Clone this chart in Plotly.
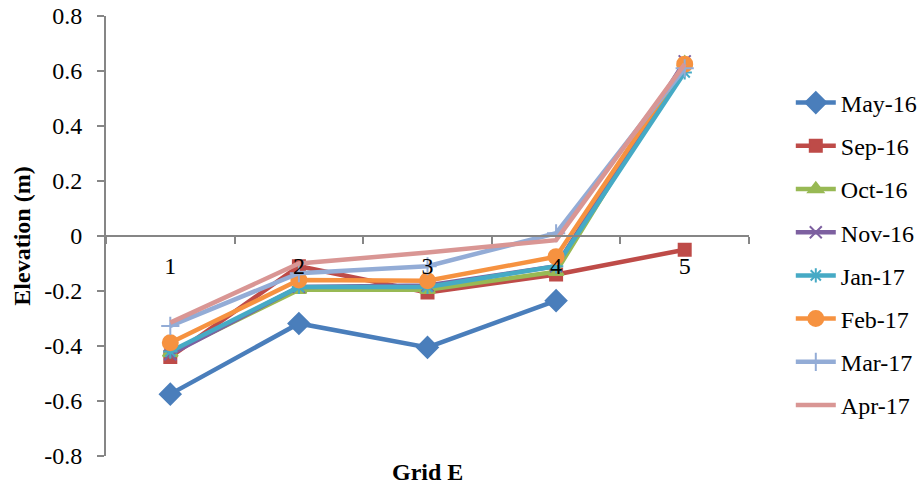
import plotly.graph_objects as go

grid_points = ["1", "2", "3", "4", "5"]

may_16 = [-0.575, -0.318, -0.405, -0.235, None]
sep_16 = [-0.44, -0.11, -0.205, -0.14, -0.05]
oct_16 = [-0.425, -0.195, -0.195, -0.13, 0.63]
nov_16 = [-0.43, -0.185, -0.18, -0.11, 0.635]
jan_17 = [-0.42, -0.185, -0.185, -0.11, 0.595]
feb_17 = [-0.388, -0.16, -0.163, -0.075, 0.625]
mar_17 = [-0.327, -0.135, -0.11, 0.01, 0.61]
apr_17 = [-0.315, -0.1, -0.06, -0.015, 0.625]

series = [
    ("May-16", may_16, "#4a7ebb", "diamond", 16),
    ("Sep-16", sep_16, "#be4b48", "square", 12),
    ("Oct-16", oct_16, "#98b954", "triangle-up", 13),
    ("Nov-16", nov_16, "#7d60a0", "x-thin-open", 12),
    ("Jan-17", jan_17, "#46aac5", "asterisk-open", 12),
    ("Feb-17", feb_17, "#f69240", "circle", 15),
    ("Mar-17", mar_17, "#93acd6", "cross-thin-open", 13),
    ("Apr-17", apr_17, "#d99694", None, 0),
]

font_family = "Times New Roman, Liberation Serif, DejaVu Serif, serif"
fs = 24
axis_color = "#868686"

fig = go.Figure()
for i, (name, vals, color, symbol, size) in enumerate(series):
    if symbol is None:
        mode = "lines"
        marker = dict()
    else:
        mode = "lines+markers"
        marker = dict(symbol=symbol, size=size, color=color,
                      line=dict(color=color, width=2))
    fig.add_trace(go.Scatter(
        x=grid_points, y=vals, name=name, mode=mode,
        line=dict(color=color, width=4.5),
        marker=marker,
        legendgroup="g%d" % i,
        connectgaps=False,
    ))

fig.update_layout(
    width=923, height=488,
    margin=dict(l=106, r=174, t=16, b=32, autoexpand=False),
    plot_bgcolor="white", paper_bgcolor="white",
    font=dict(family=font_family, size=fs, color="black"),
    showlegend=True,
    legend=dict(
        x=1.065, y=(236 - 254) / 440 + 0.5, xanchor="left", yanchor="middle",
        traceorder="grouped", tracegroupgap=9,
        font=dict(family=font_family, size=fs, color="black"),
        bgcolor="rgba(0,0,0,0)", itemwidth=40,
    ),
    xaxis=dict(
        type="category", range=[-0.5, 4.5],
        anchor="free", position=0.5, automargin=False,
        showline=True, linecolor=axis_color, linewidth=2,
        ticks="outside", tickson="boundaries", ticklen=7,
        tickcolor=axis_color, tickwidth=2,
        ticklabelstandoff=8,
        showgrid=False, zeroline=False,
        tickfont=dict(family=font_family, size=fs),
    ),
    yaxis=dict(
        range=[-0.8, 0.8], tickvals=[-0.8, -0.6, -0.4, -0.2, 0, 0.2, 0.4, 0.6, 0.8],
        ticktext=["-0.8", "-0.6", "-0.4", "-0.2", "0", "0.2", "0.4", "0.6", "0.8"],
        automargin=False,
        showline=True, linecolor=axis_color, linewidth=2,
        ticks="outside", ticklen=7, tickcolor=axis_color, tickwidth=2,
        ticklabelstandoff=10,
        showgrid=False, zeroline=False,
        tickfont=dict(family=font_family, size=fs),
        title=dict(text="<b>Elevation (m)</b>", standoff=7,
                   font=dict(family=font_family, size=fs)),
    ),
    annotations=[dict(
        text="<b>Grid E</b>", xref="paper", yref="paper",
        x=0.5, y=(456 - 472) / 440, xanchor="center", yanchor="middle", showarrow=False,
        font=dict(family=font_family, size=fs),
    )],
)

fig.write_html("out.html")
